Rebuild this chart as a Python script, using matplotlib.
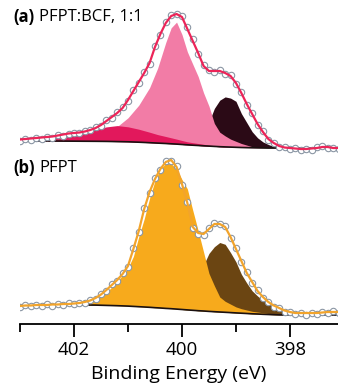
import numpy as np
import matplotlib
matplotlib.use("Agg")
import matplotlib.pyplot as plt

plt.rcParams['font.family'] = ['Open Sans', 'DejaVu Sans']

# ---------------- panel (a) PFPT:BCF 1:1 ----------------
# measured spectrum (binding energy in eV, intensity in arb. units)
energy = [403.0, 402.9, 402.8, 402.7, 402.6, 402.5, 402.4, 402.3, 402.2, 402.1,
          402.0, 401.9, 401.8, 401.7, 401.6, 401.5, 401.4, 401.3, 401.2, 401.1,
          401.0, 400.9, 400.8, 400.7, 400.6, 400.5, 400.4, 400.3, 400.2, 400.1,
          400.0, 399.9, 399.8, 399.7, 399.6, 399.5, 399.4, 399.3, 399.2, 399.1,
          399.0, 398.9, 398.8, 398.7, 398.6, 398.5, 398.4, 398.3, 398.2, 398.1,
          398.0, 397.9, 397.8, 397.7, 397.6, 397.5, 397.4, 397.3, 397.2, 397.1]

data_a = [13, 15, 14, 16, 15, 17, 16.5, 19, 18.5, 20,
          21.5, 21, 23, 24, 27, 28, 34, 36, 42, 47,
          53, 64, 71, 82, 90, 108, 119, 132, 139, 140,
          138, 127, 115, 100, 89, 84, 82, 84, 80, 79,
          70, 62, 49, 41, 29, 23, 14, 11, 7, 7.5,
          5, 6, 4, 5.5, 4, 7, 8, 6, 6.5, 5]

env_a = [14.5, 15, 15.5, 16, 16.5, 17, 17.5, 18.5, 19.5, 20.5,
         21, 21.5, 22.5, 24, 26, 29, 33, 37, 41, 46,
         54, 63, 72, 81, 91, 107, 120, 131, 138, 140,
         137, 125, 113, 101, 88, 83, 83, 83, 81, 78,
         71, 61, 50, 40, 30, 22, 15, 11, 8, 6.5,
         6, 5.5, 5, 5, 5.5, 6, 7, 7, 6, 6]

# fit components (heights above background)
comp_e_a = [403.1, 402.8, 402.5, 402.2, 401.9, 401.6, 401.4, 401.2, 401.0, 400.8,
            400.6, 400.45, 400.3, 400.2, 400.1, 400.0, 399.9, 399.8, 399.7, 399.6,
            399.5, 399.4, 399.3, 399.2, 399.1, 399.0, 398.9, 398.8, 398.7, 398.6,
            398.5, 398.4, 398.3, 398.2, 398.0, 397.6, 397.1]
bg_a = [13, 13, 13, 12.9, 12.8, 12.7, 12.6, 12.4, 12.2, 11.8,
        11.3, 10.9, 10.5, 10.2, 9.9, 9.5, 9.2, 8.8, 8.5, 8.2,
        7.9, 7.6, 7.3, 7.1, 6.9, 6.7, 6.5, 6.4, 6.3, 6.2,
        6.1, 6.0, 6, 6, 6, 6, 6]
red_a = [0.5, 2, 4, 6.5, 9, 12, 14.5, 16, 15, 13,
         10.5, 8.5, 7, 6, 5, 4, 3, 2.5, 2, 1.5,
         1, 0.7, 0.5, 0.3, 0, 0, 0, 0, 0, 0,
         0, 0, 0, 0, 0, 0, 0]
pink_a = [0, 0.5, 1, 2, 3, 5, 9, 15, 24, 37,
          55, 75, 101, 116, 122, 110, 93, 81, 69, 53,
          40, 23, 14.5, 11, 8, 6, 4, 2.5, 1, 0.5,
          0, 0, 0, 0, 0, 0, 0]
dark_a = [0, 0, 0, 0, 0, 0, 0, 0, 0, 0,
          0, 0, 0, 0, 0, 0, 2, 5, 10, 15,
          24, 38, 46.5, 50, 49, 46, 34, 25, 16, 10,
          6, 3.5, 1.5, 0.5, 0, 0, 0]

# ---------------- panel (b) PFPT ----------------
data_b = [17, 19, 18, 19.5, 18, 20, 18.5, 20.5, 19, 21,
          20, 21.5, 21, 24, 25.5, 30, 33, 40, 43, 51,
          57, 76, 92, 116, 131, 146, 154, 163, 163.5, 158,
          139, 122, 96, 90, 89, 96, 101, 100.5, 98, 86,
          76, 62, 52, 41, 34, 26, 22.5, 17, 16, 12.5,
          12, 10, 11.5, 9.5, 11, 10, 12.5, 11, 13, 11.5]

env_b = [18, 18.5, 18.5, 19, 19, 19, 19.5, 19.5, 20, 20,
         20.5, 21, 22, 23.5, 26, 29.5, 34, 39, 44, 50,
         58, 75, 93, 115, 132, 145, 155, 162, 164, 157,
         140, 121, 97, 91, 90, 95, 100, 100, 97, 87,
         75, 63, 51, 42, 33, 27, 22, 18.5, 16, 13.5,
         12, 11, 11, 11, 11, 11, 11.5, 12, 12, 12]

comp_e_b = [403.1, 402.5, 402.0, 401.8, 401.6, 401.4, 401.2, 401.0, 400.9, 400.8,
            400.7, 400.6, 400.5, 400.4, 400.3, 400.2, 400.1, 400.0, 399.9, 399.8,
            399.7, 399.6, 399.5, 399.4, 399.3, 399.2, 399.1, 399.0, 398.9, 398.8,
            398.7, 398.6, 398.5, 398.4, 398.3, 398.2, 398.0, 397.6, 397.1]
bg_b = [19, 19, 19, 19, 18.9, 18.6, 18.3, 17.9, 17.6, 17.3,
        17, 16.7, 16.3, 16, 15.6, 15.3, 14.9, 14.5, 14.1, 13.7,
        13.3, 13, 12.6, 12.3, 12, 11.7, 11.4, 11.1, 10.8, 10.5,
        10.2, 10, 9.7, 9.5, 9.3, 9.1, 9, 9, 9]
orange_b = [0, 0, 0.3, 1, 6, 13, 24, 38, 50, 70,
            88, 109, 127, 139, 145, 145, 140, 130, 121, 100,
            80, 59, 38, 26, 15, 11, 8.5, 6, 4.5, 3.5,
            2.5, 2, 1.5, 1, 0.5, 0, 0, 0, 0]
dark_b = [0, 0, 0, 0, 0, 0, 0, 0, 0, 0,
          0, 0, 0, 0, 0, 0, 0, 1, 4, 12,
          25, 46, 58, 65, 69.5, 68, 60, 51, 39, 30.5,
          23, 18, 14, 11, 8, 5, 1.5, 0, 0]

offset_a = 170  # vertical offset of the upper panel

fig = plt.figure(figsize=(3.38, 3.85), dpi=100)
ax = fig.add_axes([20 / 338, 61 / 385, 318 / 338, 324 / 385])


def draw_panel(ax, e, data, env, ce, bg, comps, line_color, off):
    bg = np.array(bg) + off
    for h, col, z in comps:
        ax.fill_between(ce, bg, bg + np.array(h), color=col, lw=0, zorder=z)
    ax.plot(ce, bg, color='#1a1010', lw=1.2, zorder=4)
    ax.plot(e, np.array(data) + off, 'o', ms=4.6, mfc='white', mec='#8a96a4',
            mew=0.8, zorder=5)
    ax.plot(e, np.array(env) + off, color=line_color, lw=1.6, zorder=6)


draw_panel(ax, energy, data_a, env_a, comp_e_a, bg_a,
           [(dark_a, '#2b0a16', 1), (pink_a, '#f27ca6', 2), (red_a, '#e2185c', 3)],
           '#ec2458', offset_a)
draw_panel(ax, energy, data_b, env_b, comp_e_b, bg_b,
           [(dark_b, '#6b4512', 1), (orange_b, '#f7aa1c', 2)],
           '#f2a42c', 0)

ax.set_xlim(403.0, 397.11)
ax.set_ylim(0, 324)
for s in ['top', 'left', 'right']:
    ax.spines[s].set_visible(False)
ax.spines['bottom'].set_linewidth(1.3)
ax.set_yticks([])
ax.set_xticks([402, 400, 398])
ax.set_xticks([403, 401, 399], minor=True)
ax.tick_params(axis='x', which='major', length=9.5, width=1.3, labelsize=13.5, pad=3)
ax.tick_params(axis='x', which='minor', length=6, width=1.3)
ax.set_xlabel('Binding Energy (eV)', fontsize=14, labelpad=4)

fig.text(13 / 338, 1 - 17 / 385, '(a)', fontsize=12, fontweight='bold', va='center')
fig.text(39 / 338, 1 - 17 / 385, 'PFPT:BCF, 1:1', fontsize=12, va='center')
fig.text(13 / 338, 1 - 168 / 385, '(b)', fontsize=12, fontweight='bold', va='center')
fig.text(39 / 338, 1 - 168 / 385, 'PFPT', fontsize=12, va='center')

fig.savefig('out.png', dpi=100)
